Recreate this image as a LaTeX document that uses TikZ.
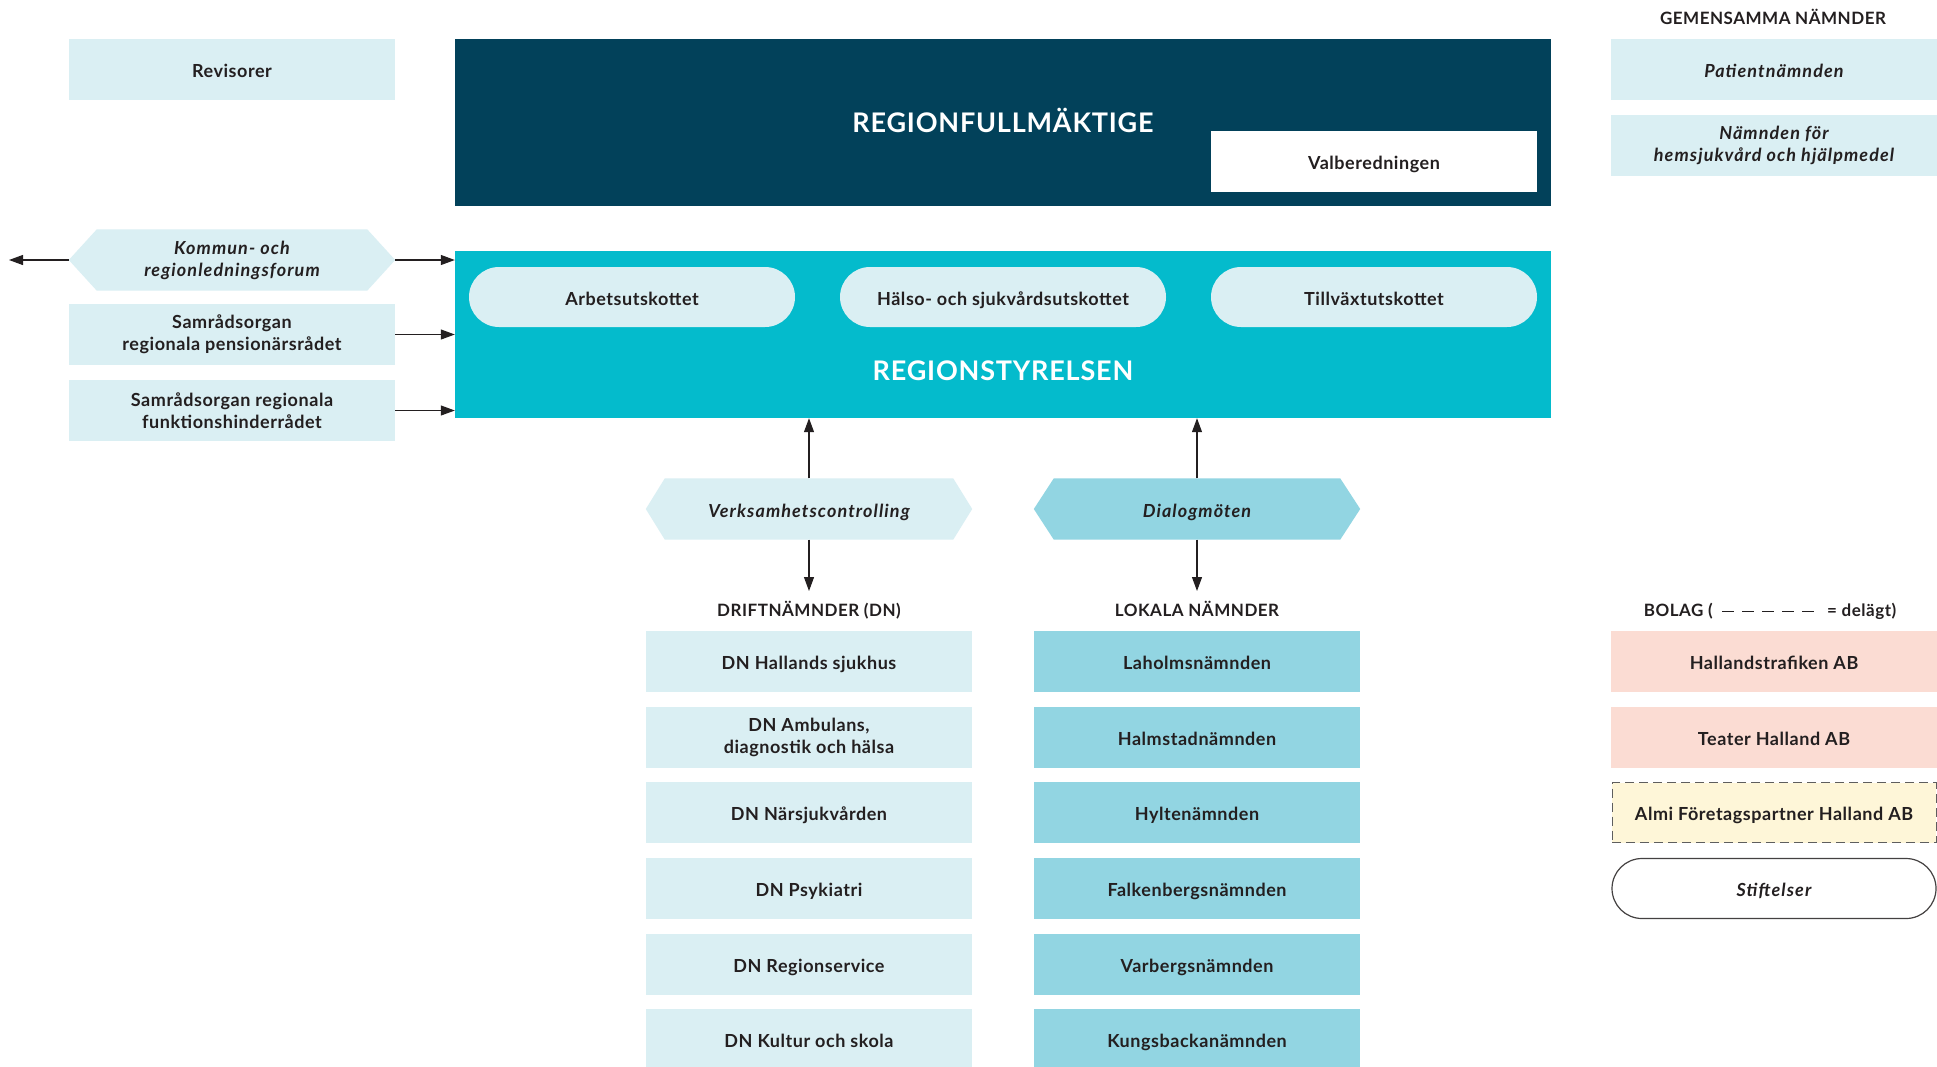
\documentclass[tikz,border=0pt]{standalone}
\usepackage{fontspec}
\setmainfont{Lato}[BoldFeatures={LetterSpace=3}, BoldItalicFeatures={LetterSpace=6}]
\usetikzlibrary{arrows.meta,backgrounds}
\definecolor{lb}{HTML}{DAEFF3}
\definecolor{navyc}{HTML}{02415A}
\definecolor{tealc}{HTML}{04BBCC}
\definecolor{mb}{HTML}{92D5E2}
\definecolor{pinkc}{HTML}{FBDCD3}
\definecolor{yelc}{HTML}{FEF6D8}
\definecolor{txt}{HTML}{231F20}
\definecolor{dashgray}{HTML}{5E5E5E}
\tikzset{
  tx/.style={text=txt, font=\bfseries\fontsize{18}{22}\selectfont, align=center, inner sep=0pt},
  itx/.style={tx, font=\bfseries\itshape\fontsize{18}{22}\selectfont},
  one/.style={text height=16pt, text depth=0pt},
  box/.style={rectangle, minimum width=326pt, minimum height=61pt},
  lbox/.style={tx, box, fill=lb, one},
  lboxm/.style={tx, box, fill=lb},
  mbox/.style={tx, box, fill=mb, one},
  pill/.style={tx, box, fill=lb, one, minimum height=60pt, rounded corners=30pt},
  hdr/.style={text=txt, font=\bfseries\fontsize{17}{20}\selectfont, inner sep=0pt, text height=12pt, text depth=0pt},
  title/.style={text=white, font=\bfseries\fontsize{27}{32}\selectfont, inner sep=0pt},
  arr/.style={draw=txt, line width=1.1pt, -{Triangle[length=14pt,width=10pt]}},
}
\begin{document}
\begin{tikzpicture}[x=1pt,y=-1pt]
\useasboundingbox (0,0) rectangle (1937,1066);
\begin{scope}[on background layer]
  \fill[white] (0,0) rectangle (1937,1066);
\end{scope}

% left column
\node[lbox] (rev) at (232,69.5) {Revisorer};
\node[itx, box] (kommun) at (232,260) {Kommun- och\\regionledningsforum};
\node[lboxm] (sam1) at (232,334.5) {Samrådsorgan\\regionala pensionärsrådet};
\node[lboxm] (sam2) at (232,410.5) {Samrådsorgan regionala\\funktionshinderrådet};
\coordinate (farleft) at (9,260);

% centre top
\node[fill=navyc, minimum width=1096pt, minimum height=167pt, inner sep=0pt, title, text height=19.5pt, text depth=0pt] (rf) at (1003,122.5) {REGIONFULLMÄKTIGE};
\node[lbox, fill=white] (valb) at (1374,161.5) {Valberedningen};

\node[fill=tealc, minimum width=1096pt, minimum height=167pt, inner sep=0pt] (rs) at (1003,334.5) {};
\node[title] (rstxt) at (1003,371) {REGIONSTYRELSEN};
\node[pill] (arb) at (632,297) {Arbetsutskottet};
\node[pill] (hso) at (1003,297) {Hälso- och sjukvårdsutskottet};
\node[pill] (tvu) at (1374,297) {Tillväxtutskottet};

% middle
\node[itx, box, one] (verks) at (809,509) {Verksamhetscontrolling};
\node[itx, box, one] (dialog) at (1197,509) {Dialogmöten};
\coordinate (dnarr) at (809,591);
\coordinate (lnarr) at (1197,591);
\node[hdr] (dnhdr) at (809,610) {DRIFTNÄMNDER (DN)};
\node[hdr] (lnhdr) at (1197,610) {LOKALA NÄMNDER};

\node[lbox] (dn1) at (809,661.5) {DN Hallands sjukhus};
\node[lboxm] (dn2) at (809,737.5) {DN Ambulans,\\diagnostik och hälsa};
\node[lbox] (dn3) at (809,812.5) {DN Närsjukvården};
\node[lbox] (dn4) at (809,888.5) {DN Psykiatri};
\node[lbox] (dn5) at (809,964.5) {DN Regionservice};
\node[lbox] (dn6) at (809,1039.5) {DN Kultur och skola};

\node[mbox] (ln1) at (1197,661.5) {Laholmsnämnden};
\node[mbox] (ln2) at (1197,737.5) {Halmstadnämnden};
\node[mbox] (ln3) at (1197,812.5) {Hyltenämnden};
\node[mbox] (ln4) at (1197,888.5) {Falkenbergsnämnden};
\node[mbox] (ln5) at (1197,964.5) {Varbergsnämnden};
\node[mbox] (ln6) at (1197,1039.5) {Kungsbackanämnden};

% right column
\node[hdr] (gemhdr) at (1773,18) {GEMENSAMMA NÄMNDER};
\node[itx, box, one, fill=lb] (pat) at (1774,69.5) {Patientnämnden};
\node[itx, box, fill=lb] (hjm) at (1774,145.5) {Nämnden för\\hemsjukvård och hjälpmedel};

\node[hdr, anchor=east] (bolagA) at (1713,610) {BOLAG (};
\node[hdr, anchor=west] (bolagB) at (1827,610) {= delägt)};
\draw[txt, line width=1pt, dash pattern=on 12pt off 8pt] ([xshift=9pt,yshift=-1pt]bolagA.east) -- ([xshift=-13pt,yshift=-1pt]bolagB.west);

\node[lbox, fill=pinkc] (ht) at (1774,661.5) {Hallandstrafiken AB};
\node[lbox, fill=pinkc] (teater) at (1774,737.5) {Teater Halland AB};
\node[tx, box, one, fill=yelc, draw=dashgray, dash pattern=on 9pt off 5pt, line width=1pt, minimum width=324pt, minimum height=60pt] (almi) at (1774,812.5) {Almi Företagspartner Halland AB};
\node[itx, box, one, fill=white, draw=txt!85, line width=1.2pt, rounded corners=30pt, minimum width=324pt, minimum height=60pt] (stift) at (1774,888.5) {Stiftelser};

% hexagon shapes
\begin{scope}[on background layer]
  \fill[lb] (kommun.west) -- ([xshift=28pt]kommun.north west) -- ([xshift=-28pt]kommun.north east) -- (kommun.east) -- ([xshift=-28pt]kommun.south east) -- ([xshift=28pt]kommun.south west) -- cycle;
  \fill[lb] (verks.west) -- ([xshift=19pt]verks.north west) -- ([xshift=-19pt]verks.north east) -- (verks.east) -- ([xshift=-19pt]verks.south east) -- ([xshift=19pt]verks.south west) -- cycle;
  \fill[mb] (dialog.west) -- ([xshift=20pt]dialog.north west) -- ([xshift=-20pt]dialog.north east) -- (dialog.east) -- ([xshift=-20pt]dialog.south east) -- ([xshift=20pt]dialog.south west) -- cycle;
\end{scope}

% connectors
\draw[arr] (kommun.west) -- (farleft);
\draw[arr] (kommun.east) -- (kommun.east -| rs.west);
\draw[arr] (sam1.east) -- (sam1.east -| rs.west);
\draw[arr] (sam2.east) -- (sam2.east -| rs.west);
\draw[arr] (verks.north) -- (verks.north |- rs.south);
\draw[arr] (dialog.north) -- (dialog.north |- rs.south);
\draw[arr] (verks.south) -- (dnarr);
\draw[arr] (dialog.south) -- (lnarr);
\end{tikzpicture}
\end{document}
